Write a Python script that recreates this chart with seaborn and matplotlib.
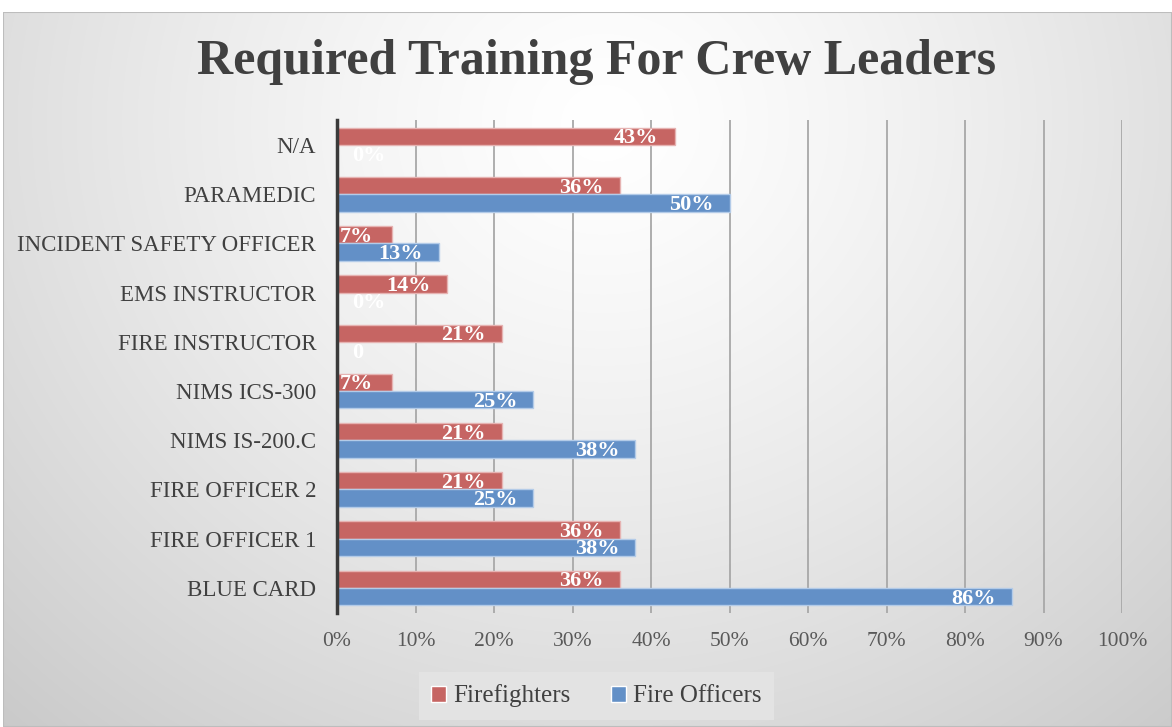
import numpy as np
import pandas as pd
import matplotlib
matplotlib.use("Agg")
import matplotlib.pyplot as plt
from matplotlib.patches import Rectangle
import seaborn as sns

categories = ["N/A", "PARAMEDIC", "INCIDENT SAFETY OFFICER", "EMS INSTRUCTOR",
              "FIRE INSTRUCTOR", "NIMS ICS-300", "NIMS IS-200.C", "FIRE OFFICER 2",
              "FIRE OFFICER 1", "BLUE CARD"]
firefighters = [43, 36, 7, 14, 21, 7, 21, 21, 36, 36]
fire_officers = [0, 50, 13, 0, 0, 25, 38, 25, 38, 86]
firefighters_labels = ["43%", "36%", "7%", "14%", "21%", "7%", "21%", "21%", "36%", "36%"]
fire_officers_labels = ["0%", "50%", "13%", "0%", "0", "25%", "38%", "25%", "38%", "86%"]
series_names = ["Firefighters", "Fire Officers"]
x_ticks = [0, 10, 20, 30, 40, 50, 60, 70, 80, 90, 100]
x_tick_labels = ["0%", "10%", "20%", "30%", "40%", "50%", "60%", "70%", "80%", "90%", "100%"]
title = "Required Training For Crew Leaders"

df = pd.DataFrame({
    "category": categories * 2,
    "value": firefighters + fire_officers,
    "series": [series_names[0]] * len(categories) + [series_names[1]] * len(categories),
})

sns.set_theme(style="white")
plt.rcParams["font.family"] = ["Liberation Serif", "DejaVu Serif"]

W, H = 1172, 727
fig = plt.figure(figsize=(W / 100, H / 100), dpi=100)
fig.patch.set_facecolor("white")

# background gradient panel
bg = fig.add_axes([3 / W, 0, 1 - 3 / W, 715 / H], zorder=-10)
gx = np.linspace(0, 1169, 300)
gy = np.linspace(0, 715, 200)
X, Y = np.meshgrid(gx, gy)
r = np.sqrt(((X - 600) / 760) ** 2 + ((Y - 110) / 700) ** 2)
val = 1.0 - 0.17 * np.clip(r, 0, 1.2) ** 1.3
img = np.dstack([val, val, val])
bg.imshow(img, extent=[0, 1169, 715, 0], aspect="auto", interpolation="bilinear")
bg.set_xlim(0, 1169)
bg.set_ylim(715, 0)
bg.axis("off")
bg.add_patch(Rectangle((0, 0), 1169, 715, fill=False, edgecolor="#bdbdbd", lw=1.5))

ax = fig.add_axes([337 / W, 1 - 612.5 / H, 785 / W, 492 / H])
ax.set_facecolor("none")

red = "#C66563"
blue = "#6390C7"
sns.barplot(data=df, y="category", x="value", hue="series", orient="h",
            hue_order=series_names, palette=[red, blue], width=0.7,
            saturation=1, ax=ax, errorbar=None)

edge_cols = ["#e6b3b2", "#b3cbe8"]
for cont, ec in zip(ax.containers, edge_cols):
    for p in cont.patches:
        p.set_edgecolor(ec)
        p.set_linewidth(1.0)

ax.set_xlim(0, 100)
ax.set_xticks(x_ticks)
ax.set_xticklabels(x_tick_labels)
ax.set_xlabel("")
ax.set_ylabel("")
ax.xaxis.grid(True, color="#a8a8a8", lw=1.3)
ax.yaxis.grid(False)
ax.set_axisbelow(True)
for s in ["top", "right", "bottom"]:
    ax.spines[s].set_visible(False)
ax.spines["left"].set_color("#3a3a3a")
ax.spines["left"].set_linewidth(2.5)
ax.tick_params(axis="x", length=0, pad=14, labelsize=15.5, labelcolor="#595959")
ax.tick_params(axis="y", length=0, pad=15, labelsize=16.5, labelcolor="#404040")

# value labels
for cont, labels in zip(ax.containers, [firefighters_labels, fire_officers_labels]):
    for p, lab in zip(cont.patches, labels):
        w = p.get_width()
        yc = p.get_y() + p.get_height() / 2
        if w == 0:
            ha, off = "left", 15
        elif w < 10:
            ha, off = "left", 3
            w = 0
        else:
            ha, off = "right", -16
        ax.annotate(lab, (w, yc), xytext=(off, -2), textcoords="offset pixels",
                    ha=ha, va="center", color="white", fontsize=16,
                    fontweight="bold", zorder=5)

fig.text(597 / W, 1 - 62 / H, title, ha="center", va="center", fontsize=36,
         fontweight="bold", color="#404040")

sns.move_legend(ax, "center", bbox_to_anchor=(596.5 / W, 1 - 696 / H),
                bbox_transform=fig.transFigure, ncol=2, title=None, frameon=True,
                fontsize=18, handlelength=0.6, handleheight=0.6, handletextpad=0.3,
                columnspacing=1.6, borderpad=0.5, fancybox=False)
leg = ax.get_legend()
leg.get_frame().set_facecolor("#e3e3e3")
leg.get_frame().set_edgecolor("none")
leg.get_frame().set_alpha(1)
for t in leg.get_texts():
    t.set_color("#404040")

fig.savefig("out.png", dpi=100)
